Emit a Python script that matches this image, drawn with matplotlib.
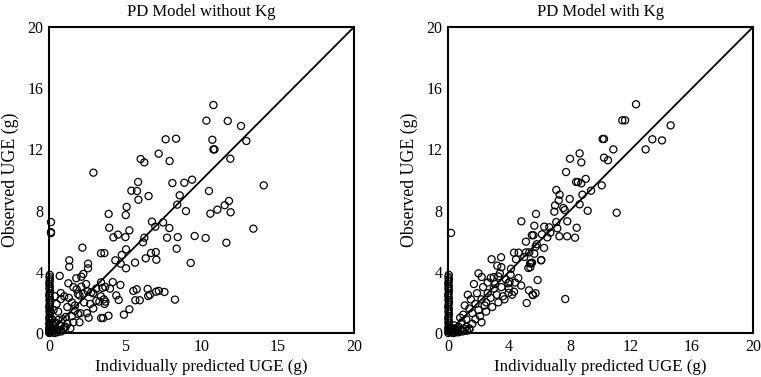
import matplotlib
matplotlib.use("Agg")
import matplotlib.pyplot as plt

plt.rcParams['font.family'] = ['Liberation Serif', 'DejaVu Serif']

# ---------------- Data: PD model without Kg ----------------
wo_x = [10.78, 10.32, 7.65, 8.33, 10.71, 10.78, 10.85, 7.19, 6.01, 6.25, 7.91, 2.91, 5.84, 8.09, 8.87, 9.38,
        5.40, 5.77, 5.86, 6.53, 8.57, 10.49, 8.41, 11.04, 10.58, 8.98, 5.09, 5.03, 3.91, 6.75, 7.48, 6.97,
        7.89, 3.95, 5.27, 4.52, 4.22, 5.01, 6.25, 6.16, 7.74, 8.44, 9.55, 10.27, 8.37, 0.13, 0.13, 0.13,
        2.19, 3.41, 3.63, 4.77, 5.05, 6.69, 7.00, 7.04, 6.34, 4.35, 4.70, 5.64, 5.05, 9.29, 1.33, 1.33,
        2.56, 2.56, 2.25, 2.12, 1.79, 0.70, 1.27, 2.12, 2.43, 2.54, 2.77, 3.41, 3.69, 3.50, 4.00, 4.18,
        4.68, 4.41, 4.57, 5.53, 5.75, 6.47, 7.02, 7.20, 7.57, 6.62, 6.50, 5.66, 5.95, 8.26, 5.27, 4.91,
        3.90, 3.42, 3.55,
        11.72, 12.59, 12.94, 11.89, 14.08, 11.80, 11.52, 11.91, 13.40, 11.63,
        1.81, 1.90, 2.25, 2.00, 0.77, 0.77, 3.60, 3.70, 3.65, 3.10, 3.30, 3.40, 2.48, 1.50, 1.70, 1.20,
        1.70, 1.90, 2.05, 1.50, 1.10, 2.90, 2.70, 2.30, 1.00, 0.50, 0.60, 0.90, 0.40, 0.70, 1.20, 1.60,
        0.30, 0.50, 0.80, 1.00, 0.20, 0.30, 0.40, 1.40, 2.00, 2.60, 1.30, 2.90, 3.10, 1.60,
        0.02, 0.03, 0.05, 0.02, 0.04, 0.06, 0.03, 0.05, 0.02, 0.04, 0.06, 0.03, 0.05, 0.02, 0.04, 0.06,
        0.03, 0.05, 0.02, 0.04, 0.06, 0.03, 0.05, 0.02, 0.04, 0.06, 0.03, 0.05, 0.02, 0.04, 0.06, 0.03,
        0.15, 0.25, 0.35, 0.20, 0.45, 0.10, 0.30, 0.55, 0.15, 0.65, 0.25, 0.80, 0.40, 0.95, 0.60, 1.10]
wo_y = [14.90, 13.88, 12.66, 12.70, 12.63, 12.00, 12.00, 11.72, 11.37, 11.15, 11.24, 10.48, 9.87, 9.80, 9.82, 10.02,
        9.30, 9.28, 8.71, 8.95, 9.00, 9.28, 8.39, 8.06, 7.80, 7.97, 8.24, 7.71, 7.78, 7.28, 7.23, 6.95,
        6.86, 6.88, 6.71, 6.43, 6.25, 6.27, 6.23, 5.93, 6.23, 6.27, 6.34, 6.21, 5.51, 7.25, 6.53, 6.60,
        5.58, 5.21, 5.22, 5.10, 5.47, 5.23, 5.29, 4.79, 4.88, 4.75, 4.53, 4.60, 4.23, 4.58, 4.75, 4.33,
        4.53, 4.23, 3.86, 3.68, 3.58, 3.73, 3.25, 3.03, 3.20, 2.72, 2.66, 3.31, 3.01, 2.95, 2.90, 3.33,
        3.14, 2.46, 2.16, 2.75, 2.86, 2.88, 2.70, 2.75, 2.68, 2.50, 2.42, 2.14, 2.14, 2.18, 1.55, 1.20,
        1.13, 0.98, 0.98,
        13.86, 13.53, 12.55, 11.39, 9.65, 8.63, 8.35, 7.89, 6.82, 5.90,
        2.86, 2.55, 2.55, 2.45, 2.61, 2.22, 2.20, 2.05, 1.90, 2.10, 2.05, 2.40, 1.30, 2.00, 1.80, 1.70,
        1.45, 1.25, 1.30, 1.10, 1.05, 1.60, 1.90, 2.00, 2.40, 1.90, 1.40, 0.90, 0.60, 0.50, 0.60, 0.70,
        0.30, 0.20, 0.20, 0.35, 0.90, 1.50, 2.40, 0.30, 0.70, 1.00, 2.30, 2.60, 2.90, 3.00,
        0.00, 0.10, 0.20, 0.30, 0.40, 0.50, 0.65, 0.80, 0.95, 1.10, 1.25, 1.40, 1.55, 1.70, 1.85, 2.00,
        2.15, 2.30, 2.45, 2.60, 2.75, 2.90, 3.05, 3.20, 3.35, 3.50, 3.65, 3.80, 0.05, 0.15, 0.35, 0.60,
        0.05, 0.10, 0.00, 0.20, 0.10, 0.30, 0.15, 0.05, 0.45, 0.20, 0.50, 0.10, 0.70, 0.25, 0.85, 0.40]

# ---------------- Data: PD model with Kg ----------------
wk_x = [12.33, 11.43, 11.61, 10.14, 10.23, 14.60, 13.40, 14.03, 12.96, 10.84, 8.63, 8.00, 8.74, 10.23, 10.49,
        7.74, 8.40, 8.52, 9.03, 8.74, 9.38, 10.08, 7.10, 7.32, 7.98, 8.81, 7.26, 7.02, 7.56, 7.65, 8.63,
        9.16, 11.06, 6.97, 5.77, 4.81, 5.66, 6.31, 6.64, 7.10, 7.82, 7.17, 8.44, 6.71, 5.50, 5.60, 6.16,
        6.51, 7.30, 7.81, 8.33, 5.11, 5.82, 5.75, 6.30, 4.33, 4.63, 5.11, 5.33, 5.66, 5.00, 5.51, 5.38,
        6.10, 4.46, 3.48, 2.86, 3.23, 3.40, 3.30, 3.00, 4.13, 5.27, 4.61, 3.95, 5.88, 5.31, 5.74, 5.55,
        5.16, 7.69, 2.21, 4.33, 0.20, 5.57, 4.04, 3.97, 5.40, 5.45, 6.12,
        1.00, 1.20, 1.40, 1.60, 1.80, 2.00, 2.20, 2.40, 2.60, 2.80, 3.00, 3.20, 1.50, 1.90, 2.30, 2.60,
        2.80, 3.10, 3.50, 3.60, 3.80, 4.00, 4.10, 2.10, 2.50, 2.90, 3.30, 3.70, 4.20, 1.30, 1.10, 0.90,
        0.70, 0.50, 0.30, 0.60, 0.90, 1.20, 1.60, 1.40, 0.40, 0.80, 2.20, 1.80, 3.50, 2.00, 4.40, 4.80,
        1.70, 2.50,
        0.02, 0.03, 0.05, 0.02, 0.04, 0.06, 0.03, 0.05, 0.02, 0.04, 0.06, 0.03, 0.05, 0.02, 0.04, 0.06,
        0.03, 0.05, 0.02, 0.04, 0.06, 0.03, 0.05, 0.02, 0.04, 0.06, 0.03, 0.05,
        0.15, 0.25, 0.35, 0.20, 0.45, 0.10, 0.30, 0.55, 0.15, 0.65, 0.25, 0.80, 0.40, 0.95, 0.60, 1.10,
        1.25, 1.40, 0.70, 0.50]
wk_y = [14.95, 13.90, 13.90, 12.68, 12.68, 13.57, 12.66, 12.59, 12.00, 12.00, 11.74, 11.39, 11.15, 11.46, 11.29,
        10.52, 9.87, 9.87, 10.07, 9.78, 9.30, 9.65, 9.35, 9.04, 8.76, 9.04, 8.67, 8.34, 8.17, 8.04, 8.41,
        7.99, 7.86, 7.93, 7.78, 7.30, 7.01, 6.95, 6.91, 7.25, 7.30, 6.84, 6.88, 6.56, 6.39, 6.39, 6.45,
        6.25, 6.32, 6.32, 6.23, 5.97, 5.80, 5.64, 5.56, 5.25, 5.25, 5.27, 5.27, 5.18, 4.97, 4.60, 4.55,
        4.75, 4.82, 4.95, 4.82, 4.40, 3.90, 3.70, 3.65, 4.20, 4.25, 3.59, 3.25, 3.46, 2.79, 2.60, 2.50,
        1.96, 2.22, 3.66, 2.70, 6.54, 2.48, 3.35, 2.62, 4.30, 4.55, 4.77,
        1.20, 0.90, 1.60, 1.30, 1.90, 1.50, 2.20, 1.80, 2.60, 2.30, 2.90, 2.50, 2.20, 2.60, 3.00, 3.30,
        3.60, 3.20, 3.00, 2.40, 3.50, 2.90, 3.80, 1.10, 1.40, 1.70, 2.00, 2.20, 2.50, 2.50, 1.80, 0.70,
        0.40, 0.30, 0.20, 0.10, 0.20, 0.40, 0.60, 0.20, 0.50, 1.00, 0.70, 0.90, 4.30, 3.90, 3.30, 3.10,
        3.20, 2.00,
        0.00, 0.10, 0.20, 0.30, 0.40, 0.50, 0.65, 0.80, 0.95, 1.10, 1.25, 1.40, 1.55, 1.70, 1.85, 2.00,
        2.15, 2.30, 2.45, 2.60, 2.75, 2.90, 3.05, 3.20, 3.35, 3.50, 3.65, 3.80,
        0.05, 0.10, 0.00, 0.20, 0.10, 0.30, 0.15, 0.05, 0.25, 0.20, 0.10, 0.15, 0.30, 0.10, 0.20, 0.25,
        0.15, 0.30, 0.05, 0.10]

titles = ["PD Model without Kg", "PD Model with Kg"]
xticks_sets = [[0, 5, 10, 15, 20], [0, 4, 8, 12, 16, 20]]
yticks = [0, 4, 8, 12, 16, 20]
xlabel = "Individually predicted UGE (g)"
ylabel = "Observed UGE (g)"

fig = plt.figure(figsize=(7.61, 3.77), dpi=100)
ax1 = fig.add_axes([0.0644, 0.1167, 0.4008, 0.8117])
ax2 = fig.add_axes([0.5887, 0.1167, 0.4008, 0.8117])

for ax, xs, ys, title, xt in [(ax1, wo_x, wo_y, titles[0], xticks_sets[0]),
                              (ax2, wk_x, wk_y, titles[1], xticks_sets[1])]:
    ax.plot([0, 20], [0, 20], color='black', lw=1.3, zorder=2)
    ax.scatter(xs, ys, s=26, facecolors='none', edgecolors='black', linewidths=0.9, zorder=3, clip_on=False)
    ax.set_xlim(0, 20)
    ax.set_ylim(0, 20)
    ax.set_xticks(xt)
    ax.set_yticks(yticks)
    ax.tick_params(length=0, pad=4, labelsize=11.5)
    for sp in ax.spines.values():
        sp.set_linewidth(1.5)
    ax.set_title(title, fontsize=12, pad=8)
    ax.set_xlabel(xlabel, fontsize=12.2, labelpad=3)
    ax.set_ylabel(ylabel, fontsize=12.8, labelpad=6)

fig.savefig("out.png", dpi=100)
